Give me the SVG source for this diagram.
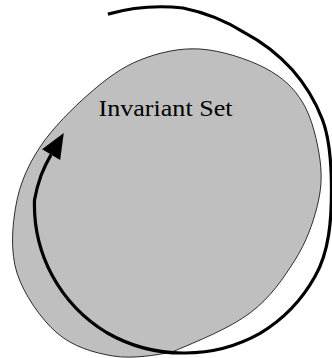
<svg xmlns="http://www.w3.org/2000/svg" width="332" height="358" viewBox="0 0 332 358">
  <style>
    .set { fill: #bfbfbf; stroke: #000; stroke-width: 0.8; }
    .label { font-family: "Liberation Serif", "DejaVu Serif", serif; font-size: 23px; fill: #000; }
    .flow { fill: none; stroke: #000; stroke-width: 3.2; }
  </style>
  <defs>
    <marker id="arrow" markerUnits="userSpaceOnUse" markerWidth="26" markerHeight="22" refX="0" refY="10.5" orient="auto" overflow="visible">
      <path d="M0,0 L25,10.5 L0,21 Z" fill="#000"/>
    </marker>
  </defs>
  <g id="invariant-set">
    <path class="set" d="M172,352 C198,341 229.5,328.3 250,313 C270.5,297.7 283.8,277.7 295,260 C306.2,242.3 312.8,223.7 317,207 C321.2,190.3 322.3,177.3 320,160 C317.7,142.7 312.2,118.3 303,103 C293.8,87.7 282.2,77 265,68 C247.8,59 220.8,50.3 200,49 C179.2,47.7 158.3,52.7 140,60 C121.7,67.3 106.7,78.5 90,93 C73.3,107.5 52.3,128.3 40,147 C27.7,165.7 19.8,184 16,205 C12.2,226 10.2,251.7 17,273 C23.8,294.3 41,319.2 57,333 C73,346.8 93.8,352.8 113,356 C132.2,359.2 157,355 172,352 Z"/>
    <text class="label" x="98.5" y="116.3" textLength="134" lengthAdjust="spacingAndGlyphs">Invariant Set</text>
  </g>
  <g id="connectors">
    <path class="flow" marker-end="url(#arrow)" d="M107.9,14.1 A196,196 0 0 1 183,8 A185,185 0 0 1 244,32.3 A174,174 0 0 1 292.3,69.8 A165,165 0 0 1 322.4,119.5 C329.6,138.2 331.5,168 331.5,190 C331.5,220 329.1,252.1 315.1,276.3 A153,153 0 0 1 260,333.4 A153.5,153.5 0 0 1 183,353 A153,153 0 0 1 106.5,332.5 A152,152 0 0 1 52.2,275.5 A150,150 0 0 1 34.5,200 A146,146 0 0 1 41.2,175 A142,142 0 0 1 51.1,154.6"/>
  </g>
</svg>
